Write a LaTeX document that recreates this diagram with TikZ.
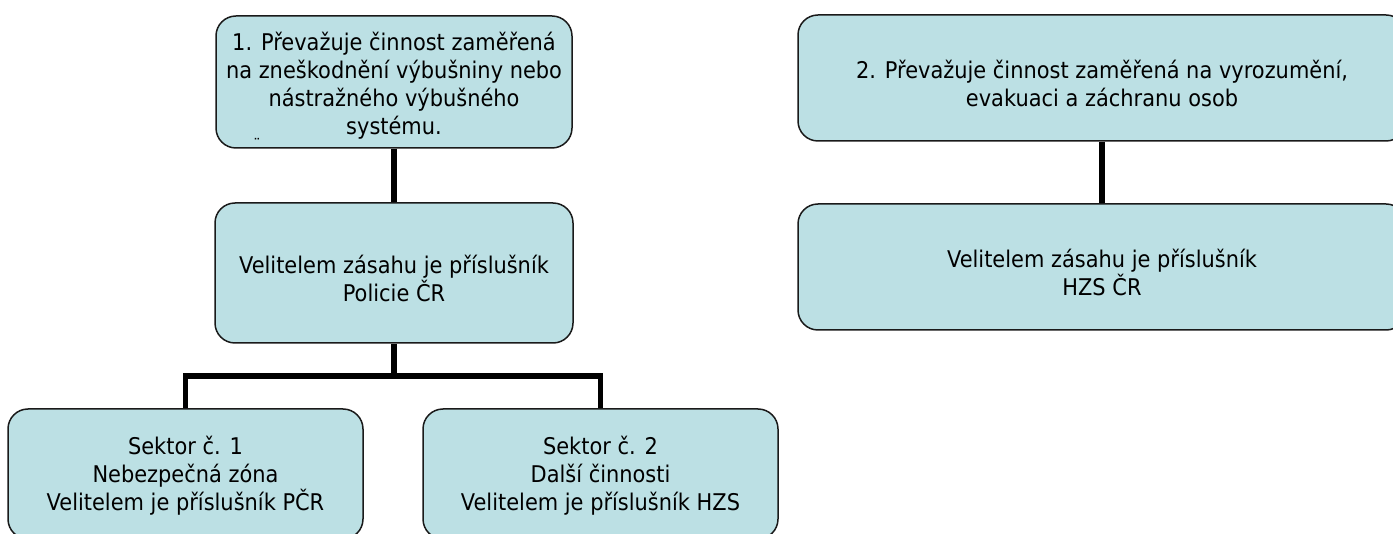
\documentclass[tikz,border=0pt]{standalone}
\usepackage{fontspec}
\setmainfont[FakeStretch=0.91]{DejaVu Sans}
\definecolor{boxfill}{HTML}{BCE0E4}
\definecolor{boxline}{HTML}{1A1A1A}
\begin{document}
\begin{tikzpicture}[x=1pt,y=-1pt,
  box/.style={draw=boxline, line width=1.5pt, fill=boxfill, rounded corners=20pt, inner sep=0pt},
  txt/.style={align=center, inner sep=0pt, font=\fontsize{23}{28}\selectfont},
  conn/.style={draw=black, line width=5.5pt, line join=miter}]
\useasboundingbox (0,0) rectangle (1393,534);
\node[box, minimum width=356pt, minimum height=132pt] (b1) at (394,82) {};
\node[box, minimum width=358pt, minimum height=140pt] (b2) at (394,273) {};
\node[box, minimum width=355pt, minimum height=130pt] (s1) at (185.5,474) {};
\node[box, minimum width=355pt, minimum height=130pt] (s2) at (600.5,474) {};
\node[box, minimum width=608pt, minimum height=126pt] (r1) at (1102,78) {};
\node[box, minimum width=608pt, minimum height=126pt] (r2) at (1102,267) {};
\node[txt] (t1) at ([yshift=-4pt]b1.center)
  {1. Převažuje činnost zaměřená\\na zneškodnění výbušniny nebo\\nástražného výbušného\\systému.};
\node[txt] (t2) at ([yshift=-5pt]b2.center)
  {Velitelem zásahu je příslušník\\Policie ČR};
\node[txt] (ts1) at ([yshift=-2pt]s1.center)
  {Sektor č. 1\\Nebezpečná zóna\\Velitelem je příslušník PČR};
\node[txt] (ts2) at ([yshift=-2pt]s2.center)
  {Sektor č. 2\\Další činnosti\\Velitelem je příslušník HZS};
\node[txt] (tr1) at ([yshift=-5pt]r1.center)
  {2. Převažuje činnost zaměřená na vyrozumění,\\evakuaci a záchranu osob};
\node[txt] (tr2) at ([yshift=-5pt]r2.center)
  {Velitelem zásahu je příslušník\\HZS ČR};
\node[font=\fontsize{16}{16}\selectfont, inner sep=0pt] (dots) at (257,144) {¨};
\coordinate (bus) at (394,376);
\draw[conn] (b1.south) -- (b2.north);
\draw[conn] (b2.south) -- (bus);
\draw[conn] (s1.north) |- (bus) -| (s2.north);
\draw[conn] (r1.south) -- (r2.north);
\end{tikzpicture}
\end{document}
